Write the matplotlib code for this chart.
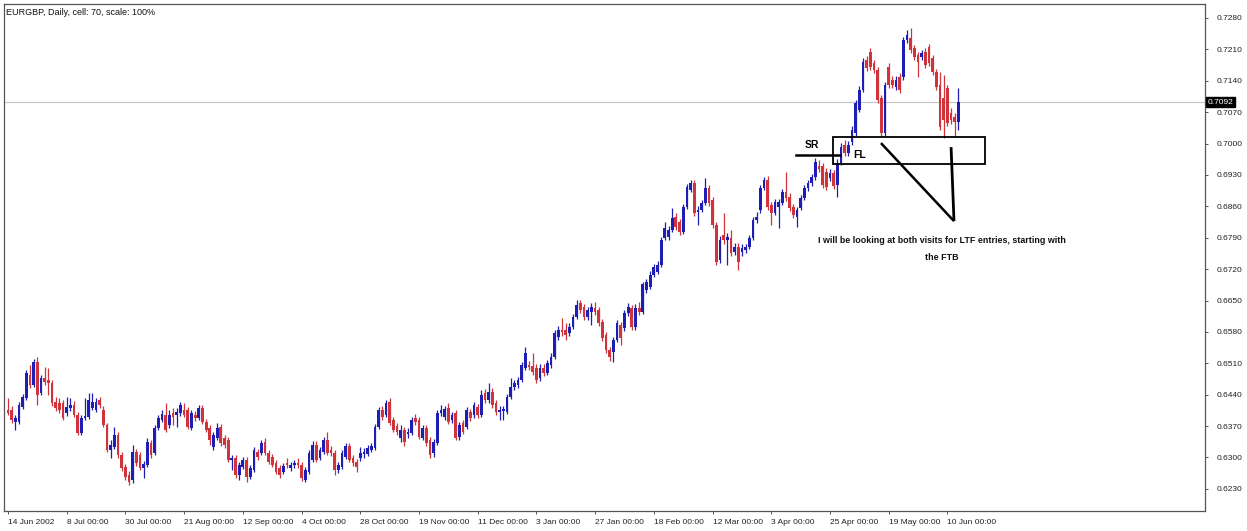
import matplotlib
matplotlib.use("Agg")
import matplotlib.pyplot as plt
from matplotlib.patches import Rectangle
import matplotlib.transforms as mtransforms
import numpy as np

plt.rcParams['font.family'] = ['Liberation Sans', 'DejaVu Sans']

# EURGBP daily bars, 14 Jun 2002 .. 13 Jun 2003 (one value per bar)
opens = [
    0.6406, 0.6406, 0.6379, 0.6379, 0.6413, 0.6432, 0.6484, 0.6461, 0.6513, 0.6444,
    0.6477, 0.6473, 0.6466, 0.6424, 0.6421, 0.6421, 0.6399, 0.6410, 0.6417, 0.6394,
    0.6354, 0.6388, 0.6390, 0.6410, 0.6406, 0.6428, 0.6406, 0.6372, 0.6316, 0.6323,
    0.6350, 0.6305, 0.6279, 0.6261, 0.6250, 0.6312, 0.6305, 0.6276, 0.6283, 0.6332,
    0.6310, 0.6365, 0.6383, 0.6394, 0.6372, 0.6399, 0.6394, 0.6399, 0.6406, 0.6406,
    0.6365, 0.6394, 0.6388, 0.6410, 0.6379, 0.6365, 0.6323, 0.6343, 0.6368, 0.6343,
    0.6339, 0.6294, 0.6299, 0.6261, 0.6279, 0.6294, 0.6256, 0.6272, 0.6312, 0.6310,
    0.6334, 0.6310, 0.6301, 0.6288, 0.6276, 0.6268, 0.6288, 0.6276, 0.6283, 0.6288,
    0.6283, 0.6250, 0.6268, 0.6294, 0.6328, 0.6299, 0.6312, 0.6339, 0.6316, 0.6310,
    0.6272, 0.6279, 0.6301, 0.6325, 0.6299, 0.6290, 0.6299, 0.6308, 0.6308, 0.6316,
    0.6321, 0.6368, 0.6406, 0.6394, 0.6424, 0.6383, 0.6370, 0.6343, 0.6361, 0.6352,
    0.6354, 0.6388, 0.6383, 0.6343, 0.6365, 0.6339, 0.6310, 0.6332, 0.6399, 0.6390,
    0.6410, 0.6383, 0.6399, 0.6346, 0.6377, 0.6368, 0.6401, 0.6394, 0.6413, 0.6394,
    0.6444, 0.6428, 0.6446, 0.6421, 0.6401, 0.6403, 0.6401, 0.6435, 0.6457, 0.6461,
    0.6473, 0.6499, 0.6506, 0.6504, 0.6499, 0.6477, 0.6499, 0.6488, 0.6506, 0.6524,
    0.6569, 0.6584, 0.6584, 0.6577, 0.6591, 0.6613, 0.6644, 0.6635, 0.6613, 0.6624,
    0.6633, 0.6629, 0.6602, 0.6573, 0.6540, 0.6535, 0.6562, 0.6595, 0.6589, 0.6622,
    0.6633, 0.6591, 0.6633, 0.6624, 0.6673, 0.6680, 0.6707, 0.6713, 0.6729, 0.6789,
    0.6792, 0.6807, 0.6836, 0.6825, 0.6803, 0.6858, 0.6896, 0.6912, 0.6847, 0.6852,
    0.6867, 0.6901, 0.6874, 0.6818, 0.6740, 0.6796, 0.6785, 0.6789, 0.6758, 0.6769,
    0.6758, 0.6763, 0.6769, 0.6789, 0.6830, 0.6852, 0.6901, 0.6919, 0.6863, 0.6845,
    0.6858, 0.6867, 0.6892, 0.6881, 0.6858, 0.6836, 0.6856, 0.6878, 0.6901, 0.6912,
    0.6926, 0.6950, 0.6950, 0.6936, 0.6923, 0.6934, 0.6908, 0.6957, 0.6997, 0.6979,
    0.7003, 0.7023, 0.7075, 0.7119, 0.7186, 0.7204, 0.7180, 0.7164, 0.7101, 0.7023,
    0.7171, 0.7142, 0.7126, 0.7148, 0.7148, 0.7231, 0.7235, 0.7213, 0.7198, 0.7193,
    0.7204, 0.7215, 0.7191, 0.7160, 0.7131, 0.7101, 0.7124, 0.7068, 0.7059, 0.7048,
]
highs = [
    0.6432, 0.6415, 0.6394, 0.6424, 0.6441, 0.6495, 0.6506, 0.6519, 0.6524, 0.6484,
    0.6502, 0.6499, 0.6473, 0.6435, 0.6432, 0.6428, 0.6435, 0.6432, 0.6426, 0.6401,
    0.6394, 0.6432, 0.6444, 0.6444, 0.6432, 0.6435, 0.6415, 0.6377, 0.6339, 0.6368,
    0.6357, 0.6312, 0.6285, 0.6270, 0.6328, 0.6319, 0.6312, 0.6292, 0.6343, 0.6339,
    0.6372, 0.6394, 0.6406, 0.6421, 0.6406, 0.6410, 0.6410, 0.6424, 0.6421, 0.6413,
    0.6406, 0.6403, 0.6417, 0.6417, 0.6386, 0.6372, 0.6357, 0.6377, 0.6374, 0.6350,
    0.6346, 0.6305, 0.6305, 0.6290, 0.6301, 0.6301, 0.6283, 0.6323, 0.6319, 0.6339,
    0.6343, 0.6316, 0.6308, 0.6294, 0.6283, 0.6288, 0.6299, 0.6290, 0.6294, 0.6299,
    0.6290, 0.6279, 0.6316, 0.6337, 0.6337, 0.6323, 0.6346, 0.6357, 0.6325, 0.6316,
    0.6290, 0.6316, 0.6332, 0.6332, 0.6305, 0.6297, 0.6323, 0.6321, 0.6328, 0.6332,
    0.6374, 0.6413, 0.6415, 0.6428, 0.6432, 0.6390, 0.6377, 0.6372, 0.6368, 0.6365,
    0.6390, 0.6397, 0.6390, 0.6372, 0.6372, 0.6346, 0.6341, 0.6406, 0.6417, 0.6415,
    0.6421, 0.6401, 0.6406, 0.6379, 0.6383, 0.6413, 0.6408, 0.6424, 0.6419, 0.6450,
    0.6452, 0.6466, 0.6455, 0.6428, 0.6415, 0.6415, 0.6441, 0.6477, 0.6473, 0.6479,
    0.6513, 0.6546, 0.6515, 0.6533, 0.6508, 0.6508, 0.6508, 0.6517, 0.6533, 0.6584,
    0.6593, 0.6611, 0.6600, 0.6600, 0.6620, 0.6651, 0.6651, 0.6642, 0.6635, 0.6644,
    0.6647, 0.6635, 0.6609, 0.6580, 0.6546, 0.6569, 0.6606, 0.6602, 0.6629, 0.6644,
    0.6640, 0.6642, 0.6647, 0.6691, 0.6698, 0.6716, 0.6731, 0.6738, 0.6792, 0.6825,
    0.6816, 0.6856, 0.6845, 0.6832, 0.6865, 0.6910, 0.6919, 0.6919, 0.6861, 0.6874,
    0.6923, 0.6908, 0.6881, 0.6825, 0.6794, 0.6845, 0.6800, 0.6807, 0.6778, 0.6778,
    0.6776, 0.6776, 0.6796, 0.6836, 0.6847, 0.6908, 0.6926, 0.6928, 0.6870, 0.6876,
    0.6876, 0.6899, 0.6937, 0.6890, 0.6865, 0.6858, 0.6885, 0.6908, 0.6919, 0.6932,
    0.6968, 0.6963, 0.6956, 0.6945, 0.6943, 0.6941, 0.6965, 0.7001, 0.7008, 0.7006,
    0.7039, 0.7097, 0.7128, 0.7191, 0.7195, 0.7213, 0.7186, 0.7171, 0.7108, 0.7137,
    0.7180, 0.7151, 0.7151, 0.7157, 0.7238, 0.7253, 0.7258, 0.7220, 0.7204, 0.7209,
    0.7213, 0.7222, 0.7198, 0.7166, 0.7160, 0.7153, 0.7131, 0.7079, 0.7068, 0.7124,
]
lows = [
    0.6394, 0.6377, 0.6361, 0.6374, 0.6408, 0.6428, 0.6455, 0.6457, 0.6417, 0.6439,
    0.6461, 0.6439, 0.6415, 0.6403, 0.6399, 0.6383, 0.6392, 0.6403, 0.6390, 0.6350,
    0.6350, 0.6383, 0.6386, 0.6406, 0.6401, 0.6410, 0.6368, 0.6312, 0.6299, 0.6319,
    0.6299, 0.6270, 0.6250, 0.6238, 0.6243, 0.6281, 0.6272, 0.6254, 0.6279, 0.6299,
    0.6305, 0.6361, 0.6379, 0.6357, 0.6365, 0.6372, 0.6368, 0.6392, 0.6390, 0.6363,
    0.6361, 0.6381, 0.6383, 0.6374, 0.6357, 0.6328, 0.6316, 0.6339, 0.6325, 0.6321,
    0.6290, 0.6272, 0.6254, 0.6250, 0.6274, 0.6245, 0.6252, 0.6268, 0.6294, 0.6305,
    0.6305, 0.6285, 0.6279, 0.6263, 0.6254, 0.6263, 0.6276, 0.6270, 0.6276, 0.6276,
    0.6247, 0.6245, 0.6263, 0.6290, 0.6290, 0.6294, 0.6308, 0.6305, 0.6303, 0.6261,
    0.6265, 0.6274, 0.6297, 0.6290, 0.6281, 0.6268, 0.6292, 0.6299, 0.6303, 0.6312,
    0.6316, 0.6363, 0.6383, 0.6390, 0.6372, 0.6357, 0.6350, 0.6334, 0.6325, 0.6343,
    0.6350, 0.6372, 0.6341, 0.6339, 0.6325, 0.6299, 0.6301, 0.6328, 0.6392, 0.6383,
    0.6374, 0.6377, 0.6339, 0.6339, 0.6352, 0.6363, 0.6381, 0.6388, 0.6388, 0.6390,
    0.6421, 0.6421, 0.6410, 0.6394, 0.6383, 0.6383, 0.6397, 0.6430, 0.6450, 0.6455,
    0.6468, 0.6495, 0.6495, 0.6484, 0.6466, 0.6470, 0.6481, 0.6484, 0.6499, 0.6520,
    0.6562, 0.6571, 0.6562, 0.6571, 0.6586, 0.6609, 0.6622, 0.6606, 0.6606, 0.6595,
    0.6618, 0.6593, 0.6560, 0.6533, 0.6515, 0.6513, 0.6557, 0.6551, 0.6582, 0.6615,
    0.6584, 0.6584, 0.6618, 0.6620, 0.6667, 0.6675, 0.6702, 0.6709, 0.6725, 0.6785,
    0.6785, 0.6803, 0.6807, 0.6796, 0.6798, 0.6854, 0.6892, 0.6838, 0.6818, 0.6847,
    0.6863, 0.6861, 0.6812, 0.6729, 0.6734, 0.6776, 0.6729, 0.6749, 0.6751, 0.6718,
    0.6749, 0.6756, 0.6765, 0.6785, 0.6823, 0.6845, 0.6896, 0.6852, 0.6818, 0.6841,
    0.6812, 0.6863, 0.6872, 0.6850, 0.6834, 0.6814, 0.6852, 0.6874, 0.6894, 0.6905,
    0.6919, 0.6936, 0.6901, 0.6896, 0.6916, 0.6899, 0.6881, 0.6952, 0.6972, 0.6972,
    0.6997, 0.7017, 0.7070, 0.7115, 0.7162, 0.7164, 0.7157, 0.7090, 0.7017, 0.7017,
    0.7124, 0.7124, 0.7119, 0.7113, 0.7142, 0.7224, 0.7202, 0.7186, 0.7148, 0.7186,
    0.7168, 0.7173, 0.7153, 0.7119, 0.7030, 0.7012, 0.7039, 0.7044, 0.7015, 0.7030,
]
closes = [
    0.6399, 0.6383, 0.6388, 0.6417, 0.6435, 0.6488, 0.6461, 0.6513, 0.6439, 0.6477,
    0.6468, 0.6466, 0.6421, 0.6410, 0.6406, 0.6388, 0.6413, 0.6417, 0.6394, 0.6354,
    0.6388, 0.6392, 0.6428, 0.6424, 0.6424, 0.6417, 0.6372, 0.6316, 0.6328, 0.6350,
    0.6305, 0.6276, 0.6256, 0.6245, 0.6312, 0.6288, 0.6276, 0.6285, 0.6334, 0.6305,
    0.6365, 0.6388, 0.6397, 0.6361, 0.6394, 0.6390, 0.6401, 0.6417, 0.6394, 0.6368,
    0.6399, 0.6388, 0.6410, 0.6379, 0.6361, 0.6339, 0.6350, 0.6365, 0.6332, 0.6328,
    0.6294, 0.6299, 0.6261, 0.6283, 0.6294, 0.6256, 0.6276, 0.6316, 0.6301, 0.6332,
    0.6310, 0.6290, 0.6283, 0.6268, 0.6261, 0.6281, 0.6283, 0.6283, 0.6288, 0.6283,
    0.6254, 0.6272, 0.6310, 0.6328, 0.6294, 0.6316, 0.6339, 0.6310, 0.6310, 0.6272,
    0.6283, 0.6310, 0.6325, 0.6294, 0.6288, 0.6279, 0.6310, 0.6312, 0.6321, 0.6325,
    0.6368, 0.6406, 0.6390, 0.6421, 0.6377, 0.6361, 0.6357, 0.6361, 0.6334, 0.6357,
    0.6383, 0.6379, 0.6346, 0.6365, 0.6332, 0.6305, 0.6334, 0.6399, 0.6406, 0.6408,
    0.6379, 0.6394, 0.6343, 0.6372, 0.6357, 0.6406, 0.6388, 0.6417, 0.6394, 0.6439,
    0.6428, 0.6446, 0.6417, 0.6401, 0.6406, 0.6408, 0.6435, 0.6457, 0.6466, 0.6473,
    0.6506, 0.6533, 0.6502, 0.6490, 0.6473, 0.6499, 0.6488, 0.6511, 0.6524, 0.6577,
    0.6584, 0.6580, 0.6573, 0.6591, 0.6613, 0.6640, 0.6629, 0.6613, 0.6629, 0.6635,
    0.6624, 0.6600, 0.6566, 0.6540, 0.6524, 0.6562, 0.6600, 0.6566, 0.6622, 0.6635,
    0.6591, 0.6633, 0.6624, 0.6687, 0.6691, 0.6707, 0.6725, 0.6729, 0.6785, 0.6812,
    0.6807, 0.6834, 0.6814, 0.6803, 0.6858, 0.6903, 0.6912, 0.6845, 0.6852, 0.6867,
    0.6901, 0.6867, 0.6818, 0.6736, 0.6785, 0.6785, 0.6792, 0.6756, 0.6769, 0.6736,
    0.6767, 0.6769, 0.6789, 0.6830, 0.6836, 0.6901, 0.6919, 0.6858, 0.6845, 0.6870,
    0.6870, 0.6892, 0.6878, 0.6856, 0.6841, 0.6852, 0.6878, 0.6901, 0.6912, 0.6926,
    0.6959, 0.6943, 0.6908, 0.6903, 0.6934, 0.6905, 0.6957, 0.6992, 0.6979, 0.6997,
    0.7030, 0.7090, 0.7119, 0.7182, 0.7168, 0.7171, 0.7164, 0.7097, 0.7023, 0.7131,
    0.7131, 0.7131, 0.7142, 0.7119, 0.7231, 0.7242, 0.7209, 0.7193, 0.7182, 0.7202,
    0.7175, 0.7180, 0.7160, 0.7126, 0.7037, 0.7053, 0.7046, 0.7053, 0.7048, 0.7092,
]

date_labels = ["14 Jun 2002", "8 Jul 00:00", "30 Jul 00:00", "21 Aug 00:00",
               "12 Sep 00:00", "4 Oct 00:00", "28 Oct 00:00", "19 Nov 00:00",
               "11 Dec 00:00", "3 Jan 00:00", "27 Jan 00:00", "18 Feb 00:00",
               "12 Mar 00:00", "3 Apr 00:00", "25 Apr 00:00", "19 May 00:00",
               "10 Jun 00:00"]
label_step = 16  # bars between date labels
price_ticks = [0.6230, 0.6300, 0.6370, 0.6440, 0.6510, 0.6580, 0.6650, 0.6720,
               0.6790, 0.6860, 0.6930, 0.7000, 0.7070, 0.7140, 0.7210, 0.7280]
last_price = 0.7092

BLUE = "#1e1eb4"
RED = "#d0343a"

o = np.array(opens)
h = np.array(highs)
l = np.array(lows)
c = np.array(closes)
x = np.arange(len(c))
up = c >= o
colors = np.where(up, BLUE, RED)

fig = plt.figure(figsize=(12.47, 5.31), dpi=100)
ax = fig.add_axes([4 / 1247, 20 / 531, 1201 / 1247, 507 / 531])

# candles
ax.vlines(x, l, h, colors=colors, linewidth=0.9, zorder=2)
body_lo = np.minimum(o, c)
body_h = np.maximum(np.abs(c - o), 0.00012)
ax.bar(x, body_h, bottom=body_lo, width=0.74, color=colors, linewidth=0, zorder=3)

ax.set_xlim(-1.09, 326.2)
ax.set_ylim(0.61806, 0.73112)

# current price line and label
ax.axhline(last_price, color="#c8c8c8", linewidth=0.9, zorder=1)
trans = mtransforms.blended_transform_factory(ax.transAxes, ax.transData)
ax.text(1.0023, last_price, f"{last_price:.4f}", transform=trans, color="white",
        fontsize=6, va="center", ha="left", clip_on=False, zorder=6,
        bbox=dict(facecolor="black", edgecolor="black", pad=1.2))

# axes styling
for s in ax.spines.values():
    s.set_color("#555555")
    s.set_linewidth(0.9)
ax.yaxis.tick_right()
ax.set_yticks(price_ticks)
ax.set_yticklabels([f"{t:.4f}" for t in price_ticks])
ax.tick_params(axis="y", direction="out", length=2.5, width=0.7, colors="#555555",
               labelcolor="#222222", labelsize=6, pad=6)
ax.set_xticks(x[::label_step][:len(date_labels)])
ax.set_xticklabels(date_labels)
ax.tick_params(axis="x", direction="out", length=2.5, width=0.7, colors="#555555",
               labelcolor="#222222", labelsize=6, pad=3)
plt.setp(ax.get_xticklabels(), ha="left")

ax.text(0.002, 0.984, "EURGBP, Daily, cell: 70, scale: 100%", transform=ax.transAxes,
        fontsize=6.5, va="center", ha="left", color="#111111")

# hand-drawn annotations
ax.add_patch(Rectangle((224.8, 0.6954), 41.4, 0.0061, fill=False, edgecolor="black",
                       linewidth=1.3, zorder=5, clip_on=False))
ax.plot([214.7, 226.7], [0.6974, 0.6974], color="black", linewidth=1.8, zorder=5)
ax.plot([237.9, 257.8], [0.7001, 0.6827], color="black", linewidth=1.8,
        solid_capstyle="butt", zorder=5)
ax.plot([257.0, 257.8], [0.6992, 0.6827], color="black", linewidth=2.0,
        solid_capstyle="butt", zorder=5)
ax.text(219.0, 0.6996, "SR", fontsize=7.5, fontweight="bold", ha="center", va="center")
ax.text(230.3, 0.6974, "FL", fontsize=7.5, fontweight="bold", ha="left", va="center")
ax.text(254.5, 0.6783, "I will be looking at both visits for LTF entries, starting with",
        fontsize=6.4, fontweight="bold", ha="center", va="center", color="#111111")
ax.text(254.5, 0.6747, "the FTB", fontsize=6.4, fontweight="bold", ha="center",
        va="center", color="#111111")

fig.savefig("out.png", dpi=100)
